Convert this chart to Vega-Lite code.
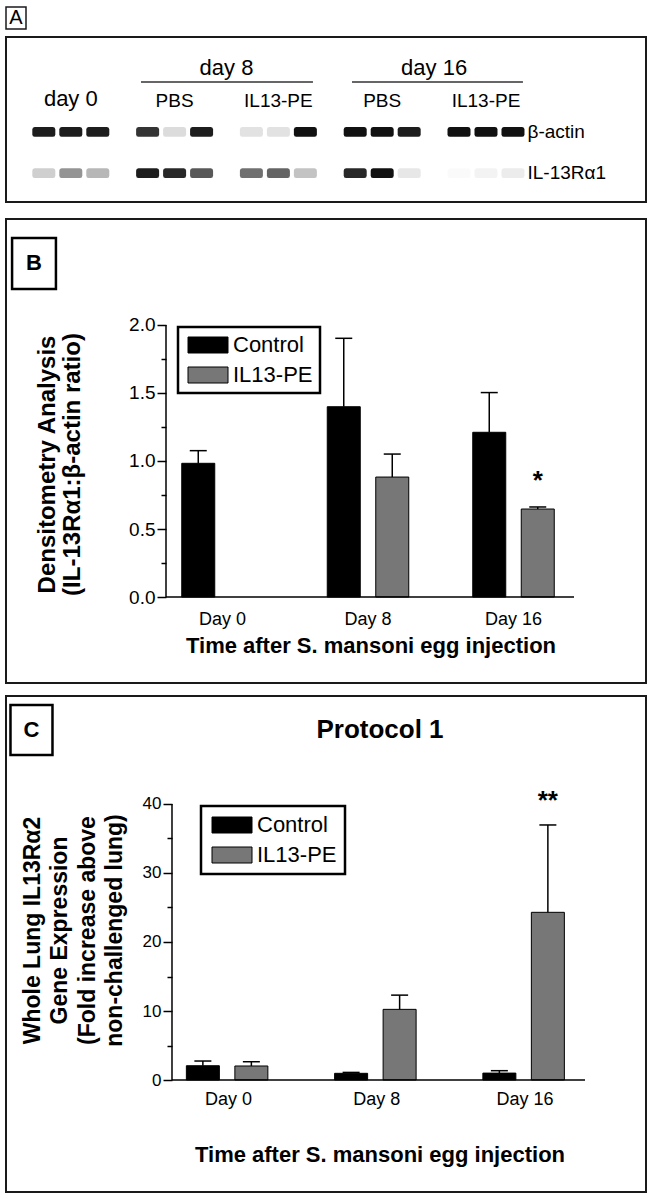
{
  "$schema": "https://vega.github.io/schema/vega-lite/v6.json",
  "padding": {"left": 4, "top": 6, "right": 4, "bottom": 4},
  "background": "white",
  "spacing": 15,
  "config": {
    "font": "Liberation Sans",
    "view": {"stroke": "#1a1a1a", "strokeWidth": 2},
    "axis": {"grid": false, "labelColor": "#000", "titleColor": "#000", "tickColor": "#000", "domainColor": "#000", "labelOverlap": false},
    "legend": {"labelColor": "#000", "strokeWidth": 2.5},
    "text": {"color": "#000"}
  },
  "datasets": {
    "gel": [
      {"group": "d0", "lane": "1", "row": "β-actin", "intensity": 0.95},
      {"group": "d0", "lane": "2", "row": "β-actin", "intensity": 0.95},
      {"group": "d0", "lane": "3", "row": "β-actin", "intensity": 0.95},
      {"group": "d8p", "lane": "1", "row": "β-actin", "intensity": 0.85},
      {"group": "d8p", "lane": "2", "row": "β-actin", "intensity": 0.15},
      {"group": "d8p", "lane": "3", "row": "β-actin", "intensity": 0.95},
      {"group": "d8i", "lane": "1", "row": "β-actin", "intensity": 0.12},
      {"group": "d8i", "lane": "2", "row": "β-actin", "intensity": 0.12},
      {"group": "d8i", "lane": "3", "row": "β-actin", "intensity": 1.0},
      {"group": "d16p", "lane": "1", "row": "β-actin", "intensity": 1.0},
      {"group": "d16p", "lane": "2", "row": "β-actin", "intensity": 1.0},
      {"group": "d16p", "lane": "3", "row": "β-actin", "intensity": 0.95},
      {"group": "d16i", "lane": "1", "row": "β-actin", "intensity": 1.0},
      {"group": "d16i", "lane": "2", "row": "β-actin", "intensity": 1.0},
      {"group": "d16i", "lane": "3", "row": "β-actin", "intensity": 1.0},
      {"group": "d0", "lane": "1", "row": "IL-13Rα1", "intensity": 0.2},
      {"group": "d0", "lane": "2", "row": "IL-13Rα1", "intensity": 0.45},
      {"group": "d0", "lane": "3", "row": "IL-13Rα1", "intensity": 0.3},
      {"group": "d8p", "lane": "1", "row": "IL-13Rα1", "intensity": 0.95},
      {"group": "d8p", "lane": "2", "row": "IL-13Rα1", "intensity": 0.9},
      {"group": "d8p", "lane": "3", "row": "IL-13Rα1", "intensity": 0.7},
      {"group": "d8i", "lane": "1", "row": "IL-13Rα1", "intensity": 0.6},
      {"group": "d8i", "lane": "2", "row": "IL-13Rα1", "intensity": 0.65},
      {"group": "d8i", "lane": "3", "row": "IL-13Rα1", "intensity": 0.25},
      {"group": "d16p", "lane": "1", "row": "IL-13Rα1", "intensity": 0.9},
      {"group": "d16p", "lane": "2", "row": "IL-13Rα1", "intensity": 1.0},
      {"group": "d16p", "lane": "3", "row": "IL-13Rα1", "intensity": 0.1},
      {"group": "d16i", "lane": "1", "row": "IL-13Rα1", "intensity": 0.02},
      {"group": "d16i", "lane": "2", "row": "IL-13Rα1", "intensity": 0.05},
      {"group": "d16i", "lane": "3", "row": "IL-13Rα1", "intensity": 0.08}
    ],
    "densito": [
      {"day": "Day 0", "group": "Control", "mean": 0.983, "upper": 1.076},
      {"day": "Day 8", "group": "Control", "mean": 1.399, "upper": 1.902},
      {"day": "Day 8", "group": "IL13-PE", "mean": 0.882, "upper": 1.051},
      {"day": "Day 16", "group": "Control", "mean": 1.211, "upper": 1.503},
      {"day": "Day 16", "group": "IL13-PE", "mean": 0.647, "upper": 0.662}
    ],
    "expr": [
      {"day": "Day 0", "group": "Control", "mean": 2.07, "upper": 2.75},
      {"day": "Day 0", "group": "IL13-PE", "mean": 2.03, "upper": 2.65},
      {"day": "Day 8", "group": "Control", "mean": 0.97, "upper": 1.1},
      {"day": "Day 8", "group": "IL13-PE", "mean": 10.24, "upper": 12.3},
      {"day": "Day 16", "group": "Control", "mean": 1.0, "upper": 1.35},
      {"day": "Day 16", "group": "IL13-PE", "mean": 24.3, "upper": 36.96}
    ]
  },
  "vconcat": [
    {
      "bounds": "flush",
      "spacing": 8,
      "vconcat": [
        {
          "width": 20,
          "height": 22,
          "view": {"stroke": "#1a1a1a", "strokeWidth": 1.5},
          "data": {"values": [{"panel": "A"}]},
          "mark": {"type": "text", "fontSize": 20, "baseline": "middle", "align": "center"},
          "encoding": {"text": {"field": "panel"}}
        },
        {
          "width": 640,
          "height": 165,
          "layer": [
            {
              "data": {"name": "gel"},
              "transform": [{"filter": "datum.lane == '1'"}],
              "mark": {"type": "point", "filled": true, "color": "#111", "size": 529, "strokeWidth": 0,
                       "shape": "M-0.8,-0.42H0.8Q1,-0.42 1,-0.2V0.2Q1,0.42 0.8,0.42H-0.8Q-1,0.42 -1,0.2V-0.2Q-1,-0.42 -0.8,-0.42Z"},
              "encoding": {
                "x": {
                  "field": "group", "type": "nominal", "bandPosition": 0.24,
                  "scale": {"domain": ["d0", "d8p", "d8i", "d16p", "d16i"], "paddingInner": 0, "paddingOuter": 0.5829, "align": 0.1066},
                  "axis": {
                    "orient": "top", "offset": -73, "domain": false, "ticks": false, "tickSize": 0, "labelPadding": 0, "title": null, "labelAngle": 0,
                    "labelBaseline": "bottom",
                    "labelExpr": "datum.value == 'd0' ? 'day 0' : (datum.value == 'd8p' || datum.value == 'd16p') ? 'PBS' : 'IL13-PE'",
                    "labelFontSize": {"condition": {"test": "datum.value == 'd0'", "value": 22}, "value": 19}
                  }
                },
                "y": {
                  "field": "row", "type": "nominal",
                  "scale": {"domain": ["β-actin", "IL-13Rα1"], "paddingInner": 0, "paddingOuter": 1, "align": 0.9},
                  "axis": {"orient": "right", "offset": -119, "domain": false, "ticks": false, "tickSize": 0, "labelPadding": 0, "title": null, "labelFontSize": 19, "labelAlign": "left", "labelBaseline": "middle"}
                },
                "opacity": {"field": "intensity", "type": "quantitative", "scale": {"domain": [0, 1], "range": [0, 1]}, "legend": null}
              }
            },
            {
              "data": {"name": "gel"},
              "transform": [{"filter": "datum.lane == '2'"}],
              "mark": {"type": "point", "filled": true, "color": "#111", "size": 529, "strokeWidth": 0,
                       "shape": "M-0.8,-0.42H0.8Q1,-0.42 1,-0.2V0.2Q1,0.42 0.8,0.42H-0.8Q-1,0.42 -1,0.2V-0.2Q-1,-0.42 -0.8,-0.42Z"},
              "encoding": {
                "x": {"field": "group", "type": "nominal", "bandPosition": 0.5},
                "y": {"field": "row", "type": "nominal"},
                "opacity": {"field": "intensity", "type": "quantitative", "legend": null}
              }
            },
            {
              "data": {"name": "gel"},
              "transform": [{"filter": "datum.lane == '3'"}],
              "mark": {"type": "point", "filled": true, "color": "#111", "size": 529, "strokeWidth": 0,
                       "shape": "M-0.8,-0.42H0.8Q1,-0.42 1,-0.2V0.2Q1,0.42 0.8,0.42H-0.8Q-1,0.42 -1,0.2V-0.2Q-1,-0.42 -0.8,-0.42Z"},
              "encoding": {
                "x": {"field": "group", "type": "nominal", "bandPosition": 0.76},
                "y": {"field": "row", "type": "nominal"},
                "opacity": {"field": "intensity", "type": "quantitative", "legend": null}
              }
            },
            {
              "data": {"values": [{"heading": "day 8", "group": "d8p"}, {"heading": "day 16", "group": "d16p"}]},
              "mark": {"type": "text", "fontSize": 22, "baseline": "alphabetic", "align": "center"},
              "encoding": {
                "x": {"field": "group", "type": "nominal", "bandPosition": 1},
                "y": {"datum": "β-actin", "bandPosition": -0.879},
                "text": {"field": "heading"}
              }
            },
            {
              "data": {"values": [{}]},
              "mark": {"type": "rule", "color": "#333", "strokeWidth": 1.3},
              "encoding": {
                "x": {"datum": "d8p", "bandPosition": 0.176},
                "x2": {"datum": "d8i", "bandPosition": 0.833},
                "y": {"datum": "β-actin", "bandPosition": -0.709}
              }
            },
            {
              "data": {"values": [{}]},
              "mark": {"type": "rule", "color": "#333", "strokeWidth": 1.3},
              "encoding": {
                "x": {"datum": "d16p", "bandPosition": 0.209},
                "x2": {"datum": "d16i", "bandPosition": 0.856},
                "y": {"datum": "β-actin", "bandPosition": -0.709}
              }
            }
          ]
        }
      ]
    },
    {
      "bounds": "flush",
      "spacing": 13,
      "resolve": {"scale": {"color": "independent"}, "legend": {"color": "independent"}},
      "vconcat": [
        {
          "width": 640,
          "height": 464,
          "layer": [
            {
              "data": {"name": "densito"},
              "mark": {"type": "bar", "stroke": "#000", "strokeWidth": 1},
              "encoding": {
                "x": {
                  "field": "day", "type": "nominal",
                  "scale": {"domain": ["Day 0", "Day 8", "Day 16"], "paddingInner": 0, "paddingOuter": 0.6993, "align": 0.7064},
                  "axis": {
                    "orient": "bottom", "offset": -86, "domain": false, "ticks": false, "tickSize": 0, "labelPadding": 13, "labelFontSize": 18, "labelAngle": 0,
                    "title": "Time after S. mansoni egg injection", "titleFontSize": 22, "titleFontWeight": "bold",
                    "titleX": 364.5, "titleY": 55, "titleAlign": "center", "titleBaseline": "alphabetic"
                  }
                },
                "xOffset": {"field": "group", "type": "nominal", "scale": {"domain": ["Control", "IL13-PE"], "paddingInner": 0.3196, "paddingOuter": 0.6598}},
                "y": {
                  "field": "mean", "type": "quantitative",
                  "scale": {"domain": [-0.632, 2.779], "nice": false, "zero": false},
                  "axis": {
                    "orient": "left", "offset": -160, "values": [0, 0.5, 1, 1.5, 2], "format": ".1f", "domain": false,
                    "tickSize": 9, "tickWidth": 1.5, "labelFontSize": 19, "labelPadding": 2,
                    "title": ["Densitometry Analysis", "(IL-13Rα1:β-actin ratio)"], "titleFontSize": 24, "titleFontWeight": "bold",
                    "titleX": -112, "titleY": 245, "titleAngle": 270, "titleAlign": "center", "titleBaseline": "alphabetic", "titleLineHeight": 25.5
                  }
                },
                "color": {
                  "field": "group", "type": "nominal",
                  "scale": {"domain": ["Control", "IL13-PE"], "range": ["#000000", "#777777"]},
                  "legend": {
                    "orient": "none", "legendX": 172, "legendY": 108, "title": null, "padding": 7,
                    "strokeColor": "#000", "symbolType": "M-1,-1H4V1H-1Z", "symbolSize": 256,
                    "symbolStrokeColor": "#000", "symbolStrokeWidth": 1, "symbolOpacity": 1,
                    "labelFontSize": 22, "labelOffset": 26, "rowPadding": 8,
                    "encode": {"legend": {"strokeWidth": {"value": 2.5}}}
                  }
                }
              }
            },
            {
              "data": {"name": "densito"},
              "mark": {"type": "rule", "strokeWidth": 1.5, "color": "#000"},
              "encoding": {
                "x": {"field": "day", "type": "nominal"},
                "xOffset": {"field": "group", "type": "nominal"},
                "y": {"field": "mean", "type": "quantitative", "axis": null},
                "y2": {"field": "upper"}
              }
            },
            {
              "data": {"name": "densito"},
              "mark": {"type": "tick", "size": 17, "thickness": 1.5, "color": "#000", "opacity": 1},
              "encoding": {
                "x": {"field": "day", "type": "nominal"},
                "xOffset": {"field": "group", "type": "nominal"},
                "y": {"field": "upper", "type": "quantitative", "axis": null}
              }
            },
            {
              "data": {"values": [{"day": "Day 16", "group": "IL13-PE", "label": "*", "y": 0.794}]},
              "mark": {"type": "text", "fontSize": 26, "fontWeight": "bold", "baseline": "alphabetic"},
              "encoding": {
                "x": {"field": "day", "type": "nominal"},
                "xOffset": {"field": "group", "type": "nominal"},
                "y": {"field": "y", "type": "quantitative", "axis": null},
                "text": {"field": "label"}
              }
            },
            {
              "data": {"values": [{}]},
              "mark": {"type": "rule", "strokeWidth": 1.5, "color": "#000"},
              "encoding": {
                "x": {"datum": "Day 0", "bandPosition": 0.1117},
                "y": {"datum": 0, "axis": {"orient": "left", "offset": -160, "values": [0.25, 0.75, 1.25, 1.75], "labels": false, "domain": false, "tickSize": 5, "tickWidth": 1.5, "title": null}},
                "y2": {"datum": 2}
              }
            },
            {
              "data": {"values": [{}]},
              "mark": {"type": "rule", "strokeWidth": 1.5, "color": "#000"},
              "encoding": {
                "x": {"datum": "Day 0", "bandPosition": 0.1117},
                "x2": {"datum": "Day 16", "bandPosition": 0.9158},
                "y": {"datum": 0, "axis": null}
              }
            },
            {
              "data": {"values": [{"panel": "B"}]},
              "mark": {"type": "point", "shape": "M-0.86,-1H0.86V1H-0.86Z", "size": 2601, "filled": false, "stroke": "#000", "strokeWidth": 2.5, "opacity": 1},
              "encoding": {
                "x": {"datum": "Day 0", "bandPosition": -0.7955},
                "y": {"datum": 2.452, "axis": null}
              }
            },
            {
              "data": {"values": [{"panel": "B"}]},
              "mark": {"type": "text", "fontSize": 22, "fontWeight": "bold", "baseline": "middle", "align": "center"},
              "encoding": {
                "x": {"datum": "Day 0", "bandPosition": -0.7955},
                "y": {"datum": 2.452, "axis": null},
                "text": {"field": "panel"}
              }
            }
          ],
          "resolve": {"axis": {"y": "independent"}}
        },
        {
          "width": 640,
          "height": 496,
          "layer": [
            {
              "data": {"name": "expr"},
              "mark": {"type": "bar", "stroke": "#000", "strokeWidth": 1},
              "encoding": {
                "x": {
                  "field": "day", "type": "nominal",
                  "scale": {"domain": ["Day 0", "Day 8", "Day 16"], "paddingInner": 0, "paddingOuter": 0.6585, "align": 0.7599},
                  "axis": {
                    "orient": "bottom", "offset": -112, "domain": false, "ticks": false, "tickSize": 0, "labelPadding": 10, "labelFontSize": 18, "labelAngle": 0,
                    "title": "Time after S. mansoni egg injection", "titleFontSize": 22, "titleFontWeight": "bold",
                    "titleX": 373.5, "titleY": 81.7, "titleAlign": "center", "titleBaseline": "alphabetic"
                  }
                },
                "xOffset": {"field": "group", "type": "nominal", "scale": {"domain": ["Control", "IL13-PE"], "paddingInner": 0.3196, "paddingOuter": 0.6882}},
                "y": {
                  "field": "mean", "type": "quantitative",
                  "scale": {"domain": [-16.23, 55.65], "nice": false, "zero": false},
                  "axis": {
                    "orient": "left", "offset": -166, "values": [0, 10, 20, 30, 40], "domain": false,
                    "tickSize": 9, "tickWidth": 1.5, "labelFontSize": 17, "labelPadding": 2,
                    "title": ["Whole Lung IL13Rα2", "Gene Expression", "(Fold increase above", "non-challenged lung)"], "titleFontSize": 23, "titleFontWeight": "bold",
                    "titleX": -133, "titleY": 234, "titleAngle": 270, "titleAlign": "center", "titleBaseline": "alphabetic", "titleLineHeight": 27.5
                  }
                },
                "color": {
                  "field": "group", "type": "nominal",
                  "scale": {"domain": ["Control", "IL13-PE"], "range": ["#000000", "#777777"]},
                  "legend": {
                    "orient": "none", "legendX": 195, "legendY": 110, "title": null, "padding": 8,
                    "strokeColor": "#000", "symbolType": "M-1,-1H4V1H-1Z", "symbolSize": 256,
                    "symbolStrokeColor": "#000", "symbolStrokeWidth": 1, "symbolOpacity": 1,
                    "labelFontSize": 22, "labelOffset": 26, "rowPadding": 8,
                    "encode": {"legend": {"strokeWidth": {"value": 2.5}}}
                  }
                }
              }
            },
            {
              "data": {"name": "expr"},
              "mark": {"type": "rule", "strokeWidth": 1.5, "color": "#000"},
              "encoding": {
                "x": {"field": "day", "type": "nominal"},
                "xOffset": {"field": "group", "type": "nominal"},
                "y": {"field": "mean", "type": "quantitative", "axis": null},
                "y2": {"field": "upper"}
              }
            },
            {
              "data": {"name": "expr"},
              "mark": {"type": "tick", "size": 17, "thickness": 1.5, "color": "#000", "opacity": 1},
              "encoding": {
                "x": {"field": "day", "type": "nominal"},
                "xOffset": {"field": "group", "type": "nominal"},
                "y": {"field": "upper", "type": "quantitative", "axis": null}
              }
            },
            {
              "data": {"values": [{"day": "Day 16", "group": "IL13-PE", "label": "**", "y": 39.3}]},
              "mark": {"type": "text", "fontSize": 26, "fontWeight": "bold", "baseline": "alphabetic"},
              "encoding": {
                "x": {"field": "day", "type": "nominal"},
                "xOffset": {"field": "group", "type": "nominal"},
                "y": {"field": "y", "type": "quantitative", "axis": null},
                "text": {"field": "label"}
              }
            },
            {
              "data": {"values": [{}]},
              "mark": {"type": "rule", "strokeWidth": 1.5, "color": "#000"},
              "encoding": {
                "x": {"datum": "Day 0", "bandPosition": 0.1189},
                "y": {"datum": 0, "axis": {"orient": "left", "offset": -166, "values": [5, 15, 25, 35], "labels": false, "domain": false, "tickSize": 5, "tickWidth": 1.5, "title": null}},
                "y2": {"datum": 40}
              }
            },
            {
              "data": {"values": [{}]},
              "mark": {"type": "rule", "strokeWidth": 1.5, "color": "#000"},
              "encoding": {
                "x": {"datum": "Day 0", "bandPosition": 0.1189},
                "x2": {"datum": "Day 16", "bandPosition": 0.9047},
                "y": {"datum": 0, "axis": null}
              }
            },
            {
              "data": {"values": [{"panel": "C", "title": "Protocol 1"}]},
              "mark": {"type": "point", "shape": "M-0.84,-1H0.84V1H-0.84Z", "size": 2500, "filled": false, "stroke": "#000", "strokeWidth": 2.5, "opacity": 1},
              "encoding": {
                "x": {"datum": "Day 0", "bandPosition": -0.8289},
                "y": {"datum": 50.72, "axis": null}
              }
            },
            {
              "data": {"values": [{"panel": "C", "title": "Protocol 1"}]},
              "mark": {"type": "text", "fontSize": 22, "fontWeight": "bold", "baseline": "middle", "align": "center"},
              "encoding": {
                "x": {"datum": "Day 0", "bandPosition": -0.8289},
                "y": {"datum": 50.72, "axis": null},
                "text": {"field": "panel"}
              }
            },
            {
              "data": {"values": [{"panel": "C", "title": "Protocol 1"}]},
              "mark": {"type": "text", "fontSize": 26, "fontWeight": "bold", "baseline": "middle", "align": "center"},
              "encoding": {
                "x": {"datum": "Day 8", "bandPosition": 0.522},
                "y": {"datum": 50.72, "axis": null},
                "text": {"field": "title"}
              }
            }
          ],
          "resolve": {"axis": {"y": "independent"}}
        }
      ]
    }
  ]
}
